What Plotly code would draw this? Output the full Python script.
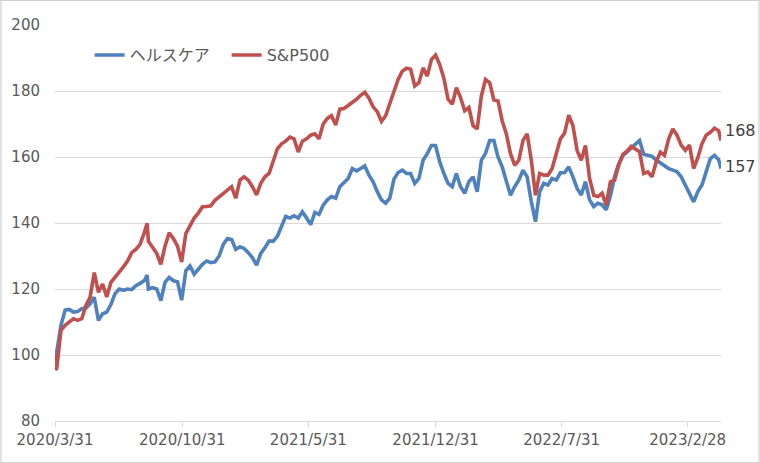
import plotly.graph_objects as go

dates = [
    "2020-03-31", "2020-04-01", "2020-04-03", "2020-04-10", "2020-04-17", "2020-04-24",
    "2020-05-01", "2020-05-08", "2020-05-15", "2020-05-22", "2020-05-29",
    "2020-06-05", "2020-06-12", "2020-06-19", "2020-06-26",
    "2020-07-03", "2020-07-10", "2020-07-17", "2020-07-24", "2020-07-31",
    "2020-08-07", "2020-08-14", "2020-08-21", "2020-08-28", "2020-09-02",
    "2020-09-04", "2020-09-11", "2020-09-18", "2020-09-25",
    "2020-10-02", "2020-10-09", "2020-10-16", "2020-10-23", "2020-10-30",
    "2020-11-06", "2020-11-13", "2020-11-20", "2020-11-27",
    "2020-12-04", "2020-12-11", "2020-12-18", "2020-12-25",
    "2021-01-01", "2021-01-08", "2021-01-15", "2021-01-22", "2021-01-29",
    "2021-02-05", "2021-02-12", "2021-02-19", "2021-02-26",
    "2021-03-05", "2021-03-12", "2021-03-19", "2021-03-26",
    "2021-04-02", "2021-04-09", "2021-04-16", "2021-04-23", "2021-04-30",
    "2021-05-07", "2021-05-14", "2021-05-21", "2021-05-28",
    "2021-06-04", "2021-06-11", "2021-06-18", "2021-06-25",
    "2021-07-02", "2021-07-09", "2021-07-16", "2021-07-23", "2021-07-30",
    "2021-08-06", "2021-08-13", "2021-08-20", "2021-08-27",
    "2021-09-03", "2021-09-10", "2021-09-17", "2021-09-24",
    "2021-10-01", "2021-10-08", "2021-10-15", "2021-10-22", "2021-10-29",
    "2021-11-05", "2021-11-12", "2021-11-19", "2021-11-26",
    "2021-12-03", "2021-12-10", "2021-12-17", "2021-12-24", "2021-12-31",
    "2022-01-07", "2022-01-14", "2022-01-21", "2022-01-28",
    "2022-02-04", "2022-02-11", "2022-02-18", "2022-02-25",
    "2022-03-04", "2022-03-11", "2022-03-18", "2022-03-25",
    "2022-04-01", "2022-04-08", "2022-04-15", "2022-04-22", "2022-04-29",
    "2022-05-06", "2022-05-13", "2022-05-20", "2022-05-27",
    "2022-06-03", "2022-06-10", "2022-06-17", "2022-06-24",
    "2022-07-01", "2022-07-08", "2022-07-15", "2022-07-22", "2022-07-29",
    "2022-08-05", "2022-08-12", "2022-08-19", "2022-08-26",
    "2022-09-02", "2022-09-09", "2022-09-16", "2022-09-23", "2022-09-30",
    "2022-10-07", "2022-10-14", "2022-10-21", "2022-10-28",
    "2022-11-04", "2022-11-11", "2022-11-18", "2022-11-25",
    "2022-12-02", "2022-12-09", "2022-12-16", "2022-12-23", "2022-12-30",
    "2023-01-06", "2023-01-13", "2023-01-20", "2023-01-27",
    "2023-02-03", "2023-02-10", "2023-02-17", "2023-02-24",
    "2023-03-03", "2023-03-10", "2023-03-17", "2023-03-24", "2023-03-31",
    "2023-04-07", "2023-04-14", "2023-04-21", "2023-04-25",
]

healthcare = [
    100, 99.5, 101, 109, 113.6, 113.8,
    113, 113.2, 114, 114.2, 115.5,
    117.5, 110.5, 112.5, 113,
    115.3, 118.6, 120, 119.6, 120,
    119.8, 121, 121.7, 122.5, 124.2,
    120, 120.4, 120, 116.5,
    122, 123.5, 122.5, 122.2, 116.6,
    125.5, 127, 124.5, 126,
    127.5, 128.5, 128, 128.2,
    130, 133.5, 135.3, 135, 132,
    132.8, 132.3, 131, 129.5,
    127.2, 130.8, 132.5, 134.5,
    134.5, 136, 139, 142, 141.5,
    142.2, 141.5, 143.4, 141.5,
    139.5, 143.2, 142.6, 145.4,
    147, 148, 147.5, 151, 152.3,
    153.5, 156.5, 155.8, 156.5,
    157.3, 154.5, 152.5, 149.5,
    147, 146, 147.5, 153.3, 155.3,
    156, 155, 155, 152,
    153.5, 159, 161, 163.5, 163.5,
    158.5, 155, 152, 151,
    155, 151, 149, 152.5,
    154, 149.5, 159, 161.1,
    165, 165, 160, 157, 153,
    148.4, 151, 153, 156,
    154, 146.5, 140.4, 149.5,
    152, 151.5, 153.5, 153, 155.2,
    155.3, 157, 154, 150.5,
    148.5, 152.5, 147, 145, 146,
    145.5, 144, 148.2, 154,
    158, 160.4, 161.5, 162.7,
    164, 165, 160.8, 160.5, 160.2,
    159.1, 158.2, 157.5, 156.5,
    156, 155.5, 154, 151.6,
    149.2, 146.4, 149.5, 151.5, 155.5,
    159.5, 160.5, 159.2, 156.5,
]

sp500 = [
    100, 95.5, 96, 107.5, 109, 110,
    111, 110.5, 111, 115, 117.5,
    125, 119, 121.5, 117.6,
    122, 123.5, 125, 126.7, 128.5,
    131, 132, 133.5, 137, 139.9,
    134.5, 132.8, 130.8, 127.5,
    133, 137, 135.3, 133, 128.2,
    136.8, 139.4, 141.5, 143,
    144.9, 145, 145.2, 146.9,
    148, 149, 150, 151, 147.5,
    153, 154, 153, 151,
    148.5, 152, 154, 155,
    159, 162.5, 164, 164.8, 166,
    165.5, 161.5, 164.8, 165.5,
    166.6, 167, 165.5, 170,
    171.7, 172.5, 169.7, 174.5, 174.7,
    175.6, 176.5, 177.5, 178.7,
    179.6, 177.8, 175.2, 173.7,
    170.8, 172.5, 176, 180.3, 183.5,
    186, 186.9, 186.6, 181.5,
    182.5, 187, 184.5, 189.5, 190.9,
    188, 183.8, 177.5, 176,
    181, 178, 174, 175,
    169.5, 168.5, 178.5, 183.5,
    182.5, 177.3, 177, 171, 167,
    161, 157.5, 159, 165,
    167, 159, 148.4, 155,
    154.5, 154.5, 156.5, 161.5, 165.5,
    167.3, 172.7, 169.5, 162,
    159, 163.5, 153.5, 148.4, 148,
    149, 145.4, 152.5, 153,
    157.5, 160.8, 161.8, 163.2,
    162.5, 161.6, 155, 155.5, 154,
    158.5, 161.5, 160.5, 165.5,
    168.5, 166.6, 163.6, 162,
    163.6, 156.5, 159.8, 164, 166.6,
    167.5, 168.7, 168, 165,
]

series_names = ["ヘルスケア", "S&P500"]
series_colors = ["#4F81BD", "#C0504D"]
end_labels = [157, 168]

tick_dates = ["2020-03-31", "2020-10-31", "2021-05-31", "2021-12-31", "2022-07-31", "2023-02-28"]
tick_text = ["2020/3/31", "2020/10/31", "2021/5/31", "2021/12/31", "2022/7/31", "2023/2/28"]
y_ticks = [80, 100, 120, 140, 160, 180, 200]

FONT = "DejaVu Sans, Noto Sans CJK JP, sans-serif"
TEXT = "#595959"

fig = go.Figure()
for name, vals, col in zip(series_names, [healthcare, sp500], series_colors):
    fig.add_trace(go.Scatter(x=dates, y=vals, mode="lines", name=name,
                             line=dict(color=col, width=3.6)))

for v in end_labels:
    fig.add_annotation(x=dates[-1], y=v, text=str(v), showarrow=False,
                       xanchor="left", yanchor="middle", xshift=2,
                       font=dict(family=FONT, size=16, color="#404040"))

fig.update_layout(
    width=760, height=463,
    margin=dict(l=55, r=39, t=25, b=42, autoexpand=False),
    paper_bgcolor="white", plot_bgcolor="white",
    font=dict(family=FONT, size=15, color=TEXT),
    showlegend=True,
    legend=dict(orientation="h", x=0.052, y=0.924, xanchor="left", yanchor="middle",
                font=dict(family=FONT, size=16, color=TEXT),
                bgcolor="rgba(0,0,0,0)", itemwidth=30, entrywidth=92),
    xaxis=dict(type="date", range=[dates[0], dates[-1]], automargin=False,
               tickvals=tick_dates, ticktext=tick_text,
               showgrid=False, showline=True, linecolor="#D9D9D9", linewidth=1,
               ticks="outside", ticklen=5, tickcolor="#D9D9D9",
               tickfont=dict(family=FONT, size=15, color=TEXT)),
    yaxis=dict(range=[80, 200], tickvals=y_ticks, showgrid=True, automargin=False,
               gridcolor="#D9D9D9", gridwidth=1, zeroline=False,
               showline=False, ticks="", ticklabelstandoff=14,
               tickfont=dict(family=FONT, size=15, color=TEXT)),
    shapes=[dict(type="rect", xref="paper", yref="paper",
                 x0=-0.0811, x1=1.0571, y0=-0.1048, y1=1.0619,
                 line=dict(color="#CFCFCF", width=1.2), fillcolor="rgba(0,0,0,0)",
                 layer="above")],
)

fig.write_html("out.html", config={"displayModeBar": False},
               post_script="document.body.style.margin='0';document.body.style.overflow='hidden';")
